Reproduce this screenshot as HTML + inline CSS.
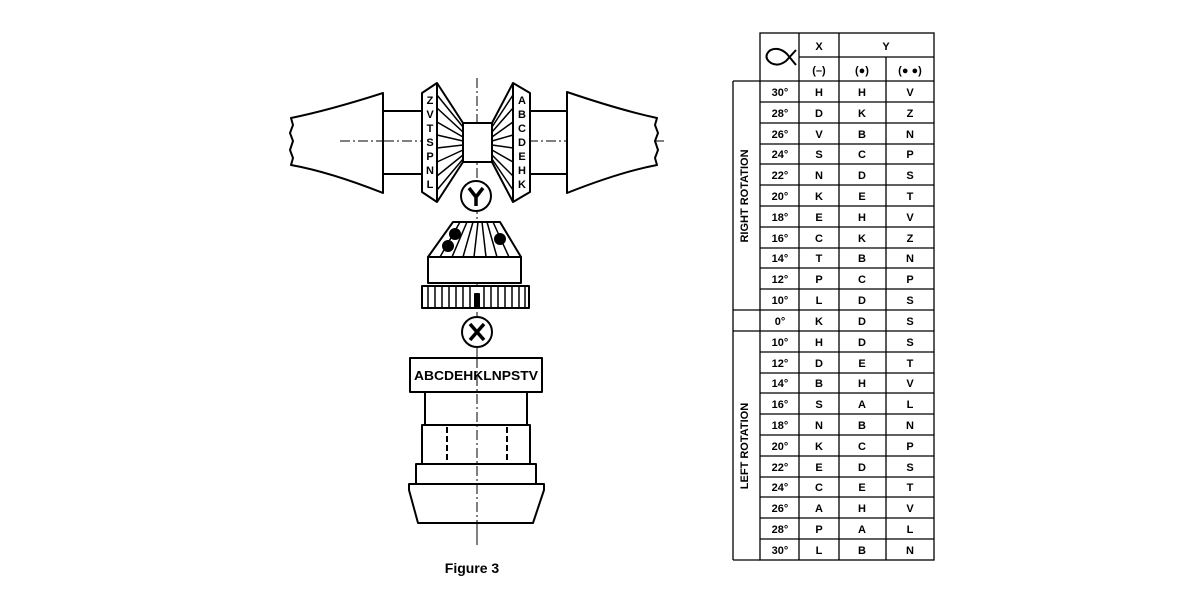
<!DOCTYPE html>
<html><head><meta charset="utf-8"><style>
html,body{margin:0;padding:0;background:#fff;}
svg{display:block;}
text{font-family:"Liberation Sans",sans-serif;font-weight:bold;fill:#000;}
</style></head><body>
<svg width="1200" height="603" viewBox="0 0 1200 603" xmlns="http://www.w3.org/2000/svg">
<g stroke="#000" stroke-width="2" fill="none" stroke-linejoin="round">
<line x1="477" y1="78" x2="477" y2="545" stroke-width="1" stroke-dasharray="10,3,2,3"/>
<line x1="330" y1="141" x2="665" y2="141" stroke-width="1" stroke-dasharray="10,3,2,3"/>
<path d="M383 93 Q330 110 291 118 L293 125 L290 133 L293 141 L290 150 L293 158 L291 165 Q330 172 383 193 Z" fill="#fff"/>
<line x1="383" y1="111" x2="422" y2="111"/><line x1="383" y1="174" x2="422" y2="174"/>
<path d="M567 92 Q620 110 657 118 L655 125 L658 133 L655 141 L658 150 L655 158 L657 165 Q620 172 567 193 Z" fill="#fff"/>
<line x1="530" y1="111" x2="567" y2="111"/><line x1="530" y1="174" x2="567" y2="174"/>
<line x1="340" y1="141" x2="383" y2="141" stroke-width="1" stroke-dasharray="10,3,2,3"/>
<rect x="463" y="123" width="29" height="39" fill="#fff"/>
<path d="M422 93 L437 83 L463 123 L463 162 L437 202 L422 192 Z" fill="#fff"/>
<line x1="437" y1="83" x2="437" y2="202"/>
<g stroke-width="1.5">
<line x1="437" y1="95" x2="463" y2="127"/><line x1="437" y1="108" x2="463" y2="132"/>
<line x1="437" y1="122" x2="463" y2="137"/><line x1="437" y1="135" x2="463" y2="141"/>
<line x1="437" y1="148" x2="463" y2="145"/><line x1="437" y1="162" x2="463" y2="150"/>
<line x1="437" y1="176" x2="463" y2="155"/><line x1="437" y1="190" x2="463" y2="159"/>
</g>
<path d="M530 93 L513 83 L492 123 L492 162 L513 202 L530 192 Z" fill="#fff"/>
<line x1="513" y1="83" x2="513" y2="202"/>
<g stroke-width="1.5">
<line x1="513" y1="95" x2="492" y2="127"/><line x1="513" y1="108" x2="492" y2="132"/>
<line x1="513" y1="122" x2="492" y2="137"/><line x1="513" y1="135" x2="492" y2="141"/>
<line x1="513" y1="148" x2="492" y2="145"/><line x1="513" y1="162" x2="492" y2="150"/>
<line x1="513" y1="176" x2="492" y2="155"/><line x1="513" y1="190" x2="492" y2="159"/>
</g>
<circle cx="476" cy="196" r="15" fill="#fff"/>
<path d="M469 188 L476 197 L483 188 M476 197 L476 206" stroke-width="3.5"/>
<path d="M453 222 L500 222 L521 257 L428 257 Z" fill="#fff"/>
<g stroke-width="1.5">
<line x1="460" y1="222" x2="440" y2="257"/><line x1="467" y1="222" x2="452" y2="257"/>
<line x1="473" y1="222" x2="463" y2="257"/><line x1="478" y1="222" x2="474" y2="257"/>
<line x1="482" y1="222" x2="486" y2="257"/><line x1="487" y1="222" x2="497" y2="257"/>
<line x1="493" y1="222" x2="509" y2="257"/>
</g>
<circle cx="455" cy="234" r="5" fill="#000"/><circle cx="448" cy="246" r="5" fill="#000"/><circle cx="500" cy="239" r="5" fill="#000"/>
<rect x="428" y="257" width="93" height="26" fill="#fff"/>
<rect x="422" y="286" width="107" height="22" fill="#fff"/>
<g stroke-width="1.5">
<line x1="428" y1="286" x2="428" y2="308"/><line x1="435" y1="286" x2="435" y2="308"/><line x1="442" y1="286" x2="442" y2="308"/>
<line x1="449" y1="286" x2="449" y2="308"/><line x1="456" y1="286" x2="456" y2="308"/><line x1="463" y1="286" x2="463" y2="308"/>
<line x1="470" y1="286" x2="470" y2="308"/><line x1="484" y1="286" x2="484" y2="308"/><line x1="491" y1="286" x2="491" y2="308"/>
<line x1="498" y1="286" x2="498" y2="308"/><line x1="505" y1="286" x2="505" y2="308"/><line x1="512" y1="286" x2="512" y2="308"/>
<line x1="519" y1="286" x2="519" y2="308"/><line x1="525" y1="286" x2="525" y2="308"/>
</g>
<rect x="475" y="294" width="4" height="14" fill="#000"/>
<circle cx="477" cy="332" r="15" fill="#fff"/>
<path d="M470 324 L484 340 M484 324 L470 340" stroke-width="3.5"/>
<rect x="410" y="358" width="132" height="34" fill="#fff"/>
<rect x="425" y="392" width="102" height="33" fill="#fff"/>
<rect x="422" y="425" width="108" height="39" fill="#fff"/>
<line x1="447" y1="427" x2="447" y2="462" stroke-dasharray="6,3"/>
<line x1="507" y1="427" x2="507" y2="462" stroke-dasharray="6,3"/>
<rect x="416" y="464" width="120" height="20" fill="#fff"/>
<path d="M409 484 L544 484 L544 490 L533 523 L418 523 L409 490 Z" fill="#fff"/>
<line x1="477" y1="358" x2="477" y2="545" stroke-width="1" stroke-dasharray="10,3,2,3"/>
</g>
<g font-size="11" text-anchor="middle">
<text x="430" y="104">Z</text><text x="430" y="118">V</text><text x="430" y="132">T</text><text x="430" y="146">S</text>
<text x="430" y="160">P</text><text x="430" y="174">N</text><text x="430" y="188">L</text>
<text x="522" y="104">A</text><text x="522" y="118">B</text><text x="522" y="132">C</text><text x="522" y="146">D</text>
<text x="522" y="160">E</text><text x="522" y="174">H</text><text x="522" y="188">K</text>
</g>
<text x="476" y="380" font-size="12.5" text-anchor="middle" textLength="124" lengthAdjust="spacingAndGlyphs">ABCDEHKLNPSTV</text>
<text x="472" y="573" font-size="14" text-anchor="middle">Figure 3</text>

<g stroke="#000" stroke-width="1.3" fill="none">
<rect x="760" y="33" width="174" height="527"/>
<line x1="799" y1="33" x2="799" y2="560"/><line x1="839" y1="33" x2="839" y2="560"/>
<line x1="886" y1="57" x2="886" y2="560"/>
<line x1="799" y1="57" x2="934" y2="57"/>
<line x1="733" y1="81" x2="934" y2="81"/>
<line x1="733" y1="81" x2="733" y2="560"/><line x1="733" y1="560" x2="760" y2="560"/>
<line x1="733" y1="310" x2="760" y2="310"/><line x1="733" y1="331" x2="760" y2="331"/>
<line x1="760" y1="102" x2="934" y2="102"/><line x1="760" y1="123" x2="934" y2="123"/><line x1="760" y1="144" x2="934" y2="144"/>
<line x1="760" y1="164" x2="934" y2="164"/><line x1="760" y1="185" x2="934" y2="185"/><line x1="760" y1="206" x2="934" y2="206"/>
<line x1="760" y1="227" x2="934" y2="227"/><line x1="760" y1="248" x2="934" y2="248"/><line x1="760" y1="268" x2="934" y2="268"/>
<line x1="760" y1="289" x2="934" y2="289"/><line x1="760" y1="310" x2="934" y2="310"/><line x1="760" y1="331" x2="934" y2="331"/>
<line x1="760" y1="352" x2="934" y2="352"/><line x1="760" y1="373" x2="934" y2="373"/><line x1="760" y1="393" x2="934" y2="393"/>
<line x1="760" y1="414" x2="934" y2="414"/><line x1="760" y1="435" x2="934" y2="435"/><line x1="760" y1="456" x2="934" y2="456"/>
<line x1="760" y1="477" x2="934" y2="477"/><line x1="760" y1="497" x2="934" y2="497"/><line x1="760" y1="518" x2="934" y2="518"/>
<line x1="760" y1="539" x2="934" y2="539"/>
<path d="M796 50 L786 61 Q778 67 771 63 Q765 59 767 54 Q770 48 778 49 Q783 50 787 54 L796 65" stroke-width="2"/>
</g>
<g font-size="11" text-anchor="middle">
<text x="819" y="50">X</text><text x="886" y="50">Y</text>
<text x="819" y="74" font-weight="normal">(–)</text><text x="862" y="74">(●)</text><text x="910" y="74">(● ●)</text>
<text x="748" y="196" transform="rotate(-90 748 196)" font-size="11">RIGHT ROTATION</text>
<text x="748" y="446" transform="rotate(-90 748 446)" font-size="11">LEFT ROTATION</text>
</g>
<g font-size="11" text-anchor="middle">
<g transform="translate(0,96)"><text x="780">30°</text><text x="819">H</text><text x="862">H</text><text x="910">V</text></g>
<g transform="translate(0,117)"><text x="780">28°</text><text x="819">D</text><text x="862">K</text><text x="910">Z</text></g>
<g transform="translate(0,138)"><text x="780">26°</text><text x="819">V</text><text x="862">B</text><text x="910">N</text></g>
<g transform="translate(0,158)"><text x="780">24°</text><text x="819">S</text><text x="862">C</text><text x="910">P</text></g>
<g transform="translate(0,179)"><text x="780">22°</text><text x="819">N</text><text x="862">D</text><text x="910">S</text></g>
<g transform="translate(0,200)"><text x="780">20°</text><text x="819">K</text><text x="862">E</text><text x="910">T</text></g>
<g transform="translate(0,221)"><text x="780">18°</text><text x="819">E</text><text x="862">H</text><text x="910">V</text></g>
<g transform="translate(0,242)"><text x="780">16°</text><text x="819">C</text><text x="862">K</text><text x="910">Z</text></g>
<g transform="translate(0,262)"><text x="780">14°</text><text x="819">T</text><text x="862">B</text><text x="910">N</text></g>
<g transform="translate(0,283)"><text x="780">12°</text><text x="819">P</text><text x="862">C</text><text x="910">P</text></g>
<g transform="translate(0,304)"><text x="780">10°</text><text x="819">L</text><text x="862">D</text><text x="910">S</text></g>
<g transform="translate(0,325)"><text x="780">0°</text><text x="819">K</text><text x="862">D</text><text x="910">S</text></g>
<g transform="translate(0,346)"><text x="780">10°</text><text x="819">H</text><text x="862">D</text><text x="910">S</text></g>
<g transform="translate(0,367)"><text x="780">12°</text><text x="819">D</text><text x="862">E</text><text x="910">T</text></g>
<g transform="translate(0,387)"><text x="780">14°</text><text x="819">B</text><text x="862">H</text><text x="910">V</text></g>
<g transform="translate(0,408)"><text x="780">16°</text><text x="819">S</text><text x="862">A</text><text x="910">L</text></g>
<g transform="translate(0,429)"><text x="780">18°</text><text x="819">N</text><text x="862">B</text><text x="910">N</text></g>
<g transform="translate(0,450)"><text x="780">20°</text><text x="819">K</text><text x="862">C</text><text x="910">P</text></g>
<g transform="translate(0,471)"><text x="780">22°</text><text x="819">E</text><text x="862">D</text><text x="910">S</text></g>
<g transform="translate(0,491)"><text x="780">24°</text><text x="819">C</text><text x="862">E</text><text x="910">T</text></g>
<g transform="translate(0,512)"><text x="780">26°</text><text x="819">A</text><text x="862">H</text><text x="910">V</text></g>
<g transform="translate(0,533)"><text x="780">28°</text><text x="819">P</text><text x="862">A</text><text x="910">L</text></g>
<g transform="translate(0,554)"><text x="780">30°</text><text x="819">L</text><text x="862">B</text><text x="910">N</text></g>
</g>
</svg>
</body></html>
